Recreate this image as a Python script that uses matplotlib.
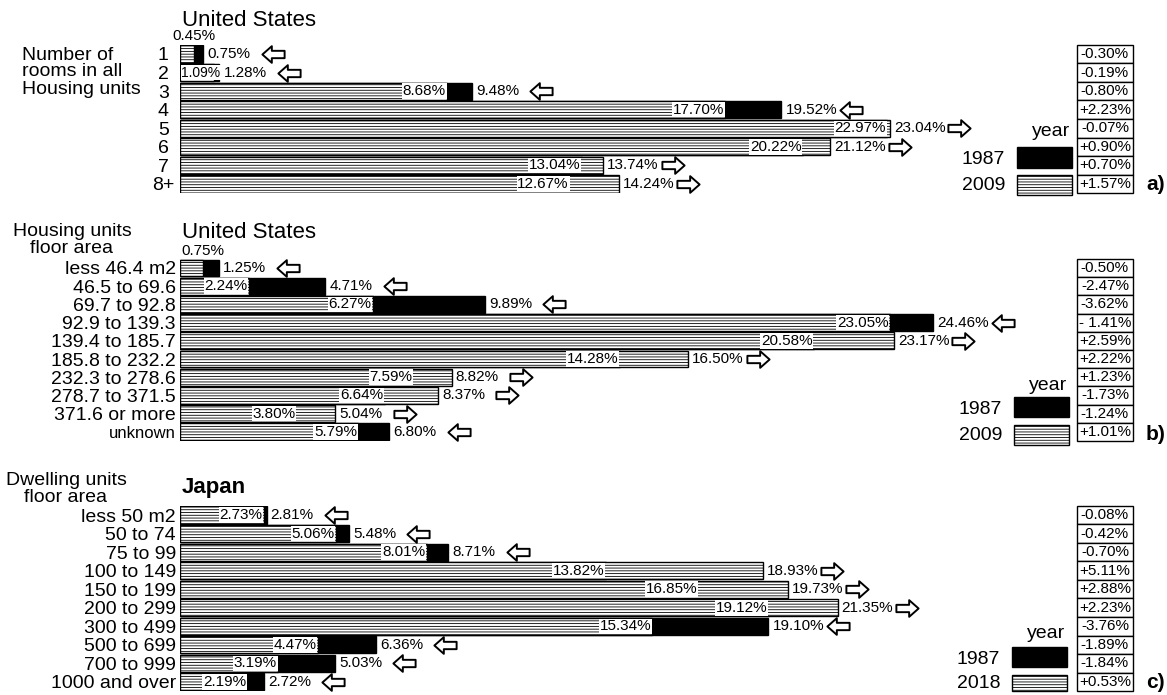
import matplotlib
matplotlib.use('Agg')
import matplotlib.pyplot as plt
from matplotlib.patches import Rectangle
from matplotlib.path import Path
from matplotlib.transforms import ScaledTranslation

W, H = 1167, 695
X0 = 180       # px where bars start
SCALE = 30.8   # px per percent
XMAX = 32.0

rooms = ['1', '2', '3', '4', '5', '6', '7', '8+']
rooms_1987 = [0.75, 1.28, 9.48, 19.52, 22.97, 20.22, 13.04, 12.67]
rooms_2009 = [0.45, 1.09, 8.68, 17.70, 23.04, 21.12, 13.74, 14.24]
rooms_change = ['-0.30%', '-0.19%', '-0.80%', '+2.23%', '-0.07%',
                '+0.90%', '+0.70%', '+1.57%']

us_area = ['less 46.4 m2', '46.5 to 69.6', '69.7 to 92.8', '92.9 to 139.3',
           '139.4 to 185.7', '185.8 to 232.2', '232.3 to 278.6',
           '278.7 to 371.5', '371.6 or more', 'unknown']
us_area_1987 = [1.25, 4.71, 9.89, 24.46, 20.58, 14.28, 7.59, 6.64, 3.80, 6.80]
us_area_2009 = [0.75, 2.24, 6.27, 23.05, 23.17, 16.50, 8.82, 8.37, 5.04, 5.79]
us_area_change = ['-0.50%', '-2.47%', '-3.62%', '- 1.41%', '+2.59%',
                  '+2.22%', '+1.23%', '-1.73%', '-1.24%', '+1.01%']

jp_area = ['less 50 m2', '50 to 74', '75 to 99', '100 to 149', '150 to 199',
           '200 to 299', '300 to 499', '500 to 699', '700 to 999',
           '1000 and over']
jp_area_1987 = [2.81, 5.48, 8.71, 13.82, 16.85, 19.12, 19.10, 6.36, 5.03, 2.72]
jp_area_2018 = [2.73, 5.06, 8.01, 18.93, 19.73, 21.35, 15.34, 4.47, 3.19, 2.19]
jp_area_change = ['-0.08%', '-0.42%', '-0.70%', '+5.11%', '+2.88%',
                  '+2.23%', '-3.76%', '-1.89%', '-1.84%', '+0.53%']

# hollow block arrow pointing left; mirrored for right
LEFT_ARROW = Path([(-1, 0), (-0.15, 0.75), (-0.15, 0.33), (1, 0.33),
                   (1, -0.33), (-0.15, -0.33), (-0.15, -0.75), (-1, 0)],
                  closed=True)
RIGHT_ARROW = Path([(-x, y) for x, y in LEFT_ARROW.vertices], closed=True)


def fx(x, y):
    return x / W, 1 - y / H


def draw_panel(fig, cats, old, new, change, new_year, first_y, step,
               title, title_y, title_bold, header, header_xy, header_ha,
               tick_ha, legend, tag):
    n = len(cats)
    top = first_y - step / 2
    ax = fig.add_axes([X0 / W, 1 - (top + n * step) / H,
                       XMAX * SCALE / W, n * step / H])
    ypos = list(range(n))
    ax.barh(ypos, old, height=0.92, color='black', edgecolor='black',
            linewidth=1)
    ax.barh(ypos, new, height=0.92, color='white', edgecolor='black',
            hatch='------', linewidth=1)
    ax.set_xlim(0, XMAX)
    ax.set_ylim(n - 0.5, -0.5)
    for s in ['top', 'right', 'bottom', 'left']:
        ax.spines[s].set_visible(False)
    ax.set_xticks([])
    ax.set_yticks(ypos)
    ax.set_yticklabels(cats, fontsize=14)
    if tick_ha == 'center':
        ax.tick_params(axis='y', length=0, pad=12)
        for t in ax.get_yticklabels():
            t.set_ha('center')
    else:
        ax.tick_params(axis='y', length=0, pad=3)
    for t in ax.get_yticklabels():
        if t.get_text() == 'unknown':
            t.set_fontsize(12)

    shift = ax.transData + ScaledTranslation(50 / 72, 0, fig.dpi_scale_trans)
    for i in range(n):
        lo = min(old[i], new[i])
        hi = max(old[i], new[i])
        if lo < 1:
            ax.annotate('%.2f%%' % lo, (lo, i - 0.5), xytext=(0, 1),
                        textcoords='offset points', ha='center', va='bottom',
                        fontsize=11)
        elif lo < 1.5:
            # too short for the label, keep it inside from the bar start
            ax.annotate('%.2f%%' % lo, (0, i), xytext=(1, 0),
                        textcoords='offset points', ha='left', va='center',
                        fontsize=10,
                        bbox=dict(fc='white', ec='none', pad=0.4))
        else:
            ax.annotate('%.2f%%' % lo, (lo, i), xytext=(-1, 0),
                        textcoords='offset points', ha='right', va='center',
                        fontsize=11,
                        bbox=dict(fc='white', ec='none', pad=0.6))
        ax.annotate('%.2f%%' % hi, (hi, i), xytext=(3, 0),
                    textcoords='offset points', ha='left', va='center',
                    fontsize=11)
        arrow = RIGHT_ARROW if new[i] > old[i] else LEFT_ARROW
        ax.plot([hi], [i], marker=arrow, markersize=16, markerfacecolor='white',
                markeredgecolor='black', markeredgewidth=1.4, linestyle='none',
                transform=shift, clip_on=False)

    # change table
    for i in range(n):
        ax.add_patch(Rectangle((29.12, i - 0.5), 1.82, 1, fc='white',
                               ec='black', lw=1, clip_on=False))
        ax.text(30.03, i, change[i], ha='center', va='center', fontsize=11)

    # titles and headers
    fig.text(*fx(X0 + 2, title_y), title, fontsize=16, va='center',
             fontweight='bold' if title_bold else 'normal')
    fig.text(*fx(*header_xy), header, fontsize=14, va='center',
             ha=header_ha, multialignment=header_ha, linespacing=1.0)

    # legend
    year_y, r1, r2, xl, xr = legend
    fig.text(*fx(xl + 53, year_y), 'year', fontsize=14, ha='right',
             va='center')
    fig.text(*fx(xl - 12, (r1[0] + r1[1]) / 2 + 2), '1987', fontsize=14,
             ha='right', va='center')
    fig.text(*fx(xl - 12, (r2[0] + r2[1]) / 2), new_year, fontsize=14,
             ha='right', va='center')
    fig.patches.append(Rectangle(fx(xl, r1[1]), (xr - xl) / W,
                                 (r1[1] - r1[0]) / H, fc='black', ec='black',
                                 transform=fig.transFigure, figure=fig))
    fig.patches.append(Rectangle(fx(xl, r2[1]), (xr - xl) / W,
                                 (r2[1] - r2[0]) / H, fc='white', ec='black',
                                 hatch='------', transform=fig.transFigure,
                                 figure=fig))
    fig.text(*fx(1146, (r2[0] + r2[1]) / 2), tag, fontsize=15,
             fontweight='bold', va='center')
    return ax


def main():
    plt.rcParams['font.family'] = ['Liberation Sans', 'DejaVu Sans']
    plt.rcParams['hatch.linewidth'] = 0.6
    fig = plt.figure(figsize=(W / 100, H / 100), dpi=100)

    draw_panel(fig, rooms, rooms_1987, rooms_2009, rooms_change, '2009',
               54, 18.57, 'United States', 20, False,
               'Number of\nrooms in all\nHousing units', (22, 72), 'left',
               'center', (132, (147, 168), (175, 195), 1017, 1072), 'a)')
    draw_panel(fig, us_area, us_area_1987, us_area_2009, us_area_change,
               '2009', 268, 18.2, 'United States', 232, False,
               'Housing units\nfloor area', (72, 240), 'center',
               'right', (385, (397, 417), (425, 445), 1014, 1069), 'b)')
    draw_panel(fig, jp_area, jp_area_1987, jp_area_2018, jp_area_change,
               '2018', 515, 18.55, 'Japan', 487, True,
               'Dwelling units\nfloor area', (66, 489), 'center',
               'right', (633, (647, 667), (675, 691), 1012, 1067), 'c)')

    fig.savefig('out.png', dpi=100)


if __name__ == '__main__':
    main()
